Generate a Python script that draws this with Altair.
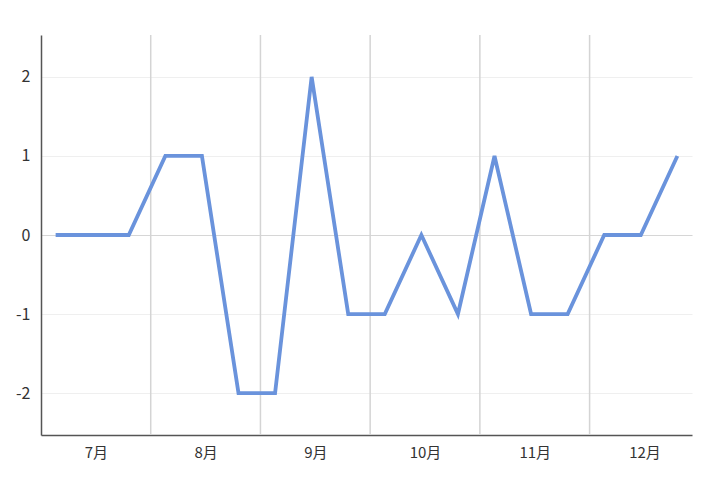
import altair as alt
import pandas as pd

# ---- data ----
months = ["7月", "8月", "9月", "10月", "11月", "12月"]
values = [0, 0, 0, 1, 1, -2, -2, 2, -1, -1, 0, -1, 1, -1, -1, 0, 0, 1]
points_per_month = 3
y_ticks = [-2, -1, 0, 1, 2]

df = pd.DataFrame({"i": list(range(len(values))), "v": values})

# month label positions (centre of each month) and month boundaries, in index units
label_pos = [points_per_month * m + 1.1 for m in range(len(months))]
bounds = [points_per_month * m - 0.4 for m in range(1, len(months))]
bounds_df = pd.DataFrame({"i": bounds})

month_js = "[" + ",".join("'%s'" % m for m in months) + "]"
label_expr = month_js + "[round((datum.value - 1.1) / %d)]" % points_per_month

FONT = "Noto Sans CJK JP"

x_scale = alt.Scale(domain=[-0.4, len(values) - 0.6], nice=False, zero=False)
y_scale = alt.Scale(domain=[-2.53, 2.53], nice=False, zero=False)

x_axis = alt.Axis(
    values=label_pos,
    labelExpr=label_expr,
    grid=False,
    ticks=False,
    domainColor="#555555",
    domainWidth=1.5,
    labelFontSize=15,
    labelFont=FONT,
    labelColor="#333333",
    labelPadding=10,
    title=None,
)

y_axis = alt.Axis(
    values=y_ticks,
    labelExpr="'' + datum.value",
    grid=True,
    gridColor={"condition": {"test": "datum.value === 0", "value": "#d6d6d6"}, "value": "#efefef"},
    gridWidth=1.2,
    ticks=False,
    domainColor="#555555",
    domainWidth=1.5,
    labelFontSize=16,
    labelFont=FONT,
    labelColor="#333333",
    labelPadding=11,
    title=None,
)

rules = alt.Chart(bounds_df).mark_rule(color="#d4d4d4", strokeWidth=1.5).encode(
    x=alt.X("i:Q", scale=x_scale, axis=x_axis)
)

line = alt.Chart(df).mark_line(color="#6a93dc", strokeWidth=3.8, strokeJoin="miter").encode(
    x=alt.X("i:Q", scale=x_scale, axis=x_axis),
    y=alt.Y("v:Q", scale=y_scale, axis=y_axis),
)

chart = (
    alt.layer(rules, line)
    .properties(
        width=651,
        height=400,
        autosize=alt.AutoSizeParams(type="none"),
        padding={"left": 33, "top": 27, "right": 20, "bottom": 46},
    )
    .configure(background="white", view=alt.ViewConfig(stroke=None))
)

chart.save("out.html", embed_options={"renderer": "svg", "actions": False})
